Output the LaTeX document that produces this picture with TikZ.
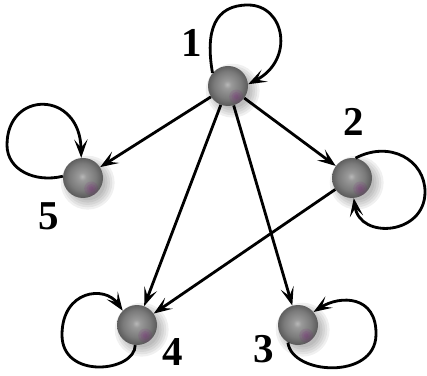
\documentclass[tikz,border=0pt]{standalone}
\usepackage{fontspec}
\setmainfont{Liberation Serif}
\usetikzlibrary{arrows.meta,backgrounds}
\pgfdeclareradialshading{sphere}{\pgfpoint{-1bp}{2bp}}{color(0bp)=(black!28); color(5bp)=(black!40); color(17bp)=(black!52); color(25bp)=(black!64); color(50bp)=(black!64)}

\begin{document}
\begin{tikzpicture}[x=0.03cm, y=-0.03cm,
    ball/.style={circle, minimum size=1.2cm, inner sep=0pt, shading=sphere},
    num/.style={font=\fontsize{35}{35}\selectfont\bfseries, inner sep=0pt},
    edge/.style={-{Stealth[length=5.5mm,width=4mm,inset=2.5mm]}, line width=2.4pt}
  ]
  \useasboundingbox (0,0) rectangle (427,376);

  % balls
  \node[ball] (n1) at (228,86) {};
  \node[ball] (n2) at (352,178) {};
  \node[ball] (n3) at (298,325) {};
  \node[ball] (n4) at (137,325) {};
  \node[ball] (n5) at (83,178) {};

  \begin{scope}[on background layer]
    \foreach \n in {n1,n2,n3,n4,n5}
      \foreach \r in {23,21,...,15}
        \fill[black, opacity=0.06] ([xshift=4pt,yshift=-4pt]\n.center) circle (\r pt);
  \end{scope}
  \foreach \n in {n1,n2,n3,n4,n5}
    \foreach \r in {6,4,2}
      \fill[violet, opacity=0.1] ([xshift=7pt,yshift=-9pt]\n.center) circle (\r pt);

  % labels
  \node[num] (l1) at (192,43) {1};
  \node[num] (l2) at (354,122) {2};
  \node[num] (l3) at (264,349) {3};
  \node[num] (l4) at (173,352) {4};
  \node[num] (l5) at (49,216) {5};

  % links
  \draw[edge] (n1) -- (n5);
  \draw[edge] (n1) -- (n2);
  \draw[edge] (n1) -- (n4);
  \draw[edge] (n1) -- (n3);
  \draw[edge] (n2) -- (n4);

  % self loops
  \draw[edge] (n1.140) .. controls (205,30) and (215,5) .. (248,5)
    .. controls (285,5) and (295,60) .. (n1.5);
  \draw[edge] (n2.80) .. controls (390,140) and (425,160) .. (425,192)
    .. controls (425,235) and (360,240) .. (n2.-85);
  \draw[edge] (n3.240) .. controls (292,375) and (375,380) .. (376,335)
    .. controls (377,295) and (340,295) .. (n3.40);
  \draw[edge] (n4.-95) .. controls (135,372) and (62,380) .. (62,335)
    .. controls (62,290) and (105,285) .. (n4.135);
  \draw[edge] (n5.175) .. controls (35,183) and (7,170) .. (7,145)
    .. controls (7,90) and (80,90) .. (n5.95);
\end{tikzpicture}
\end{document}
